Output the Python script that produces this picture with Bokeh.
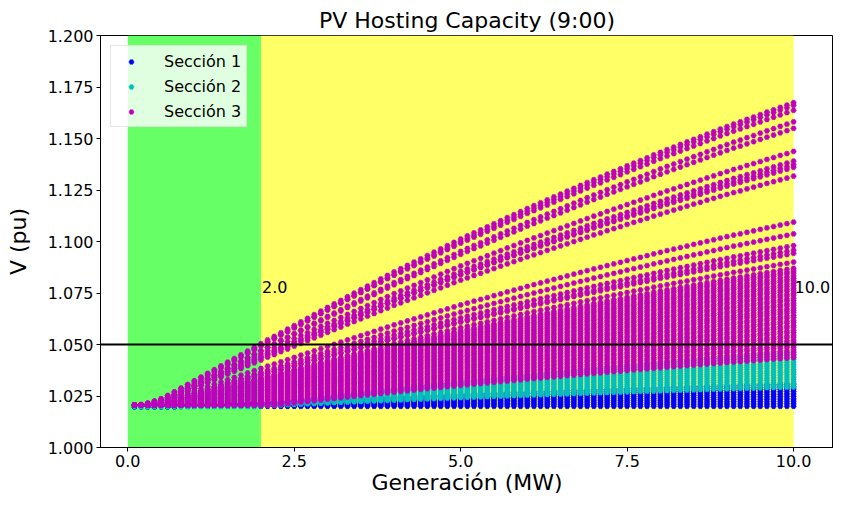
import numpy as np
from bokeh.plotting import figure
from bokeh.models import (BoxAnnotation, Span, Label, FixedTicker,
                          PrintfTickFormatter, Range1d)
from bokeh.embed import file_html
from bokeh.resources import INLINE

# ---------------- data ----------------
V0 = 1.02                      # slack voltage (pu)
gen_mw = np.round(np.arange(1, 101) * 0.1, 1)   # generation steps 0.1 .. 10.0 MW

# highest voltage of the network at every generation step
top_curve_v = [
    1.0205, 1.0208, 1.0215, 1.0225, 1.0236, 1.0252, 1.0270, 1.0288, 1.0306, 1.0324,
    1.0342, 1.0360, 1.0378, 1.0396, 1.0414, 1.0432, 1.0450, 1.0468, 1.0486, 1.0504,
    1.0522, 1.0539, 1.0557, 1.0574, 1.0592, 1.0610, 1.0627, 1.0645, 1.0662, 1.0680,
    1.0697, 1.0714, 1.0732, 1.0749, 1.0766, 1.0783, 1.0800, 1.0818, 1.0835, 1.0852,
    1.0868, 1.0884, 1.0900, 1.0916, 1.0932, 1.0948, 1.0964, 1.0980, 1.0996, 1.1012,
    1.1027, 1.1042, 1.1056, 1.1071, 1.1086, 1.1101, 1.1116, 1.1130, 1.1145, 1.1160,
    1.1174, 1.1188, 1.1202, 1.1216, 1.1230, 1.1244, 1.1258, 1.1272, 1.1286, 1.1300,
    1.1313, 1.1327, 1.1340, 1.1353, 1.1367, 1.1380, 1.1393, 1.1406, 1.1420, 1.1433,
    1.1446, 1.1458, 1.1471, 1.1483, 1.1496, 1.1508, 1.1521, 1.1533, 1.1546, 1.1558,
    1.1570, 1.1581, 1.1593, 1.1604, 1.1616, 1.1628, 1.1639, 1.1651, 1.1662, 1.1674,
]

# bus voltages read at 4 MW and at 10 MW, per section
sec1_v4 = [1.0200, 1.0205, 1.0210, 1.0215, 1.0220, 1.0225, 1.0230, 1.0235, 1.0240, 1.0245]
sec1_v10 = [1.0200, 1.0212, 1.0224, 1.0236, 1.0248, 1.0260, 1.0272, 1.0284, 1.0296, 1.0308]
sec1_vmin = 1.0200

sec2_v4 = [1.0230, 1.0234, 1.0238, 1.0242, 1.0246, 1.0250, 1.0254, 1.0258, 1.0261, 1.0265,
           1.0269, 1.0273, 1.0277, 1.0281, 1.0285]
sec2_v10 = [1.0294, 1.0306, 1.0318, 1.0331, 1.0342, 1.0355, 1.0367, 1.0378, 1.0391, 1.0403,
            1.0415, 1.0428, 1.0440, 1.0452, 1.0465]
sec2_vmin = 1.0202

sec3_v4 = [1.0852, 1.0840, 1.0836, 1.0800, 1.0790, 1.0747, 1.0725, 1.0712, 1.0713, 1.0690,
           1.0595, 1.0565, 1.0545, 1.0530, 1.0528, 1.0505,
           1.0494, 1.0488, 1.0482, 1.0475, 1.0469, 1.0463, 1.0457, 1.0450, 1.0444, 1.0438,
           1.0432, 1.0425, 1.0419, 1.0413, 1.0407, 1.0400, 1.0394, 1.0388, 1.0382, 1.0375,
           1.0369, 1.0363, 1.0357, 1.0350, 1.0344, 1.0338, 1.0332, 1.0325, 1.0319, 1.0313,
           1.0307, 1.0300, 1.0294, 1.0288, 1.0282, 1.0275, 1.0269]
sec3_v10 = [1.1674, 1.1661, 1.1637, 1.1581, 1.1549, 1.1437, 1.1390, 1.1373, 1.1360, 1.1317,
            1.1094, 1.1037, 1.0980, 1.0958, 1.0942, 1.0900,
            1.0870, 1.0857, 1.0847, 1.0833, 1.0821, 1.0811, 1.0797, 1.0786, 1.0773, 1.0763,
            1.0749, 1.0739, 1.0725, 1.0715, 1.0701, 1.0691, 1.0677, 1.0666, 1.0655, 1.0641,
            1.0631, 1.0617, 1.0607, 1.0593, 1.0583, 1.0569, 1.0559, 1.0545, 1.0535, 1.0521,
            1.0511, 1.0497, 1.0487, 1.0473, 1.0461, 1.0449, 1.0436]
sec3_vmin = 1.0206

section_names = ["Sección 1", "Sección 2", "Sección 3"]
section_colors = ["#0000ff", "#00bfbf", "#bf00bf"]

v_limit = 1.05
hosting_start_mw = 2.0
hosting_end_mw = 10.0
x_ticks = [0.0, 2.5, 5.0, 7.5, 10.0]
y_ticks = [1.000, 1.025, 1.050, 1.075, 1.100, 1.125, 1.150, 1.175, 1.200]

# ---------------- build the point clouds ----------------
top_rise = np.array(top_curve_v) - V0
i4 = int(np.argmin(np.abs(gen_mw - 4.0)))
i10 = int(np.argmin(np.abs(gen_mw - 10.0)))
T4, T10 = top_rise[i4], top_rise[i10]


def section_points(v4_list, v10_list, vmin):
    xs, ys = [], []
    for v4, v10 in zip(v4_list, v10_list):
        r4, r10 = v4 - V0, v10 - V0
        w = (r10 - r4) / (T10 - T4)
        c = w * T10 - r10
        v = np.maximum(vmin, V0 + w * top_rise - c)
        xs.append(gen_mw)
        ys.append(v)
    return np.concatenate(xs), np.concatenate(ys)


sections = [
    section_points(sec1_v4, sec1_v10, sec1_vmin),
    section_points(sec2_v4, sec2_v10, sec2_vmin),
    section_points(sec3_v4, sec3_v10, sec3_vmin),
]

# ---------------- figure ----------------
FONT = "DejaVu Sans"
p = figure(width=833, height=497,
           x_range=Range1d(-0.41, 10.6), y_range=Range1d(1.0, 1.2),
           output_backend="svg", toolbar_location=None,
           title="PV Hosting Capacity (9:00)",
           min_border_left=100, min_border_right=0,
           min_border_top=35, min_border_bottom=48)

p.background_fill_color = "white"
p.border_fill_color = "white"
p.outline_line_color = "black"
p.outline_line_width = 1
p.xgrid.visible = False
p.ygrid.visible = False

p.title.text_font = FONT
p.title.text_font_size = "22px"
p.title.text_font_style = "normal"
p.title.text_color = "black"
p.title.align = "center"
p.title.standoff = 6

p.add_layout(BoxAnnotation(left=0.0, right=hosting_start_mw, fill_color="#66ff66",
                           fill_alpha=1.0, line_color=None, level="underlay"))
p.add_layout(BoxAnnotation(left=hosting_start_mw, right=hosting_end_mw, fill_color="#ffff66",
                           fill_alpha=1.0, line_color=None, level="underlay"))

for (xs, ys), name, col in zip(sections, section_names, section_colors):
    p.scatter(xs, ys, marker="hex", size=5.5, fill_color=col, line_color=col,
              line_width=0.5, legend_label=name)

p.add_layout(Span(location=v_limit, dimension="width", line_color="black", line_width=2))

for xv in (hosting_start_mw, hosting_end_mw):
    p.add_layout(Label(x=xv, y=1.078, text=f"{xv:.1f}", text_font=FONT,
                       text_font_size="16px", text_color="black",
                       text_align="left", text_baseline="alphabetic", x_offset=1))

# axes
p.xaxis.ticker = FixedTicker(ticks=x_ticks)
p.xaxis.formatter = PrintfTickFormatter(format="%.1f")
p.yaxis.ticker = FixedTicker(ticks=y_ticks)
p.yaxis.formatter = PrintfTickFormatter(format="%.3f")
for ax in (p.xaxis[0], p.yaxis[0]):
    ax.major_label_text_font = FONT
    ax.major_label_text_font_size = "16px"
    ax.major_label_text_color = "black"
    ax.axis_label_text_font = FONT
    ax.axis_label_text_font_size = "22px"
    ax.axis_label_text_font_style = "normal"
    ax.axis_label_text_color = "black"
    ax.major_tick_in = 0
    ax.major_tick_out = 4
    ax.minor_tick_line_color = None
    ax.axis_line_color = "black"
    ax.major_tick_line_color = "black"
    ax.major_label_standoff = 3

p.xaxis.axis_label = "Generación (MW)"
p.yaxis.axis_label = "V (pu)"
p.xaxis.axis_label_standoff = 0
p.yaxis.axis_label_standoff = 14

# legend
lg = p.legend[0]
lg.location = "top_left"
lg.margin = 10
lg.padding = 5
lg.spacing = 5
lg.glyph_width = 30
lg.glyph_height = 13
lg.label_height = 20
lg.label_standoff = 18
lg.label_text_font = FONT
lg.label_text_font_size = "16px"
lg.label_text_color = "black"
lg.background_fill_color = "white"
lg.background_fill_alpha = 0.8
lg.border_line_color = "#cccccc"
lg.border_line_width = 1

open("out.html", "w").write(file_html(p, INLINE))
